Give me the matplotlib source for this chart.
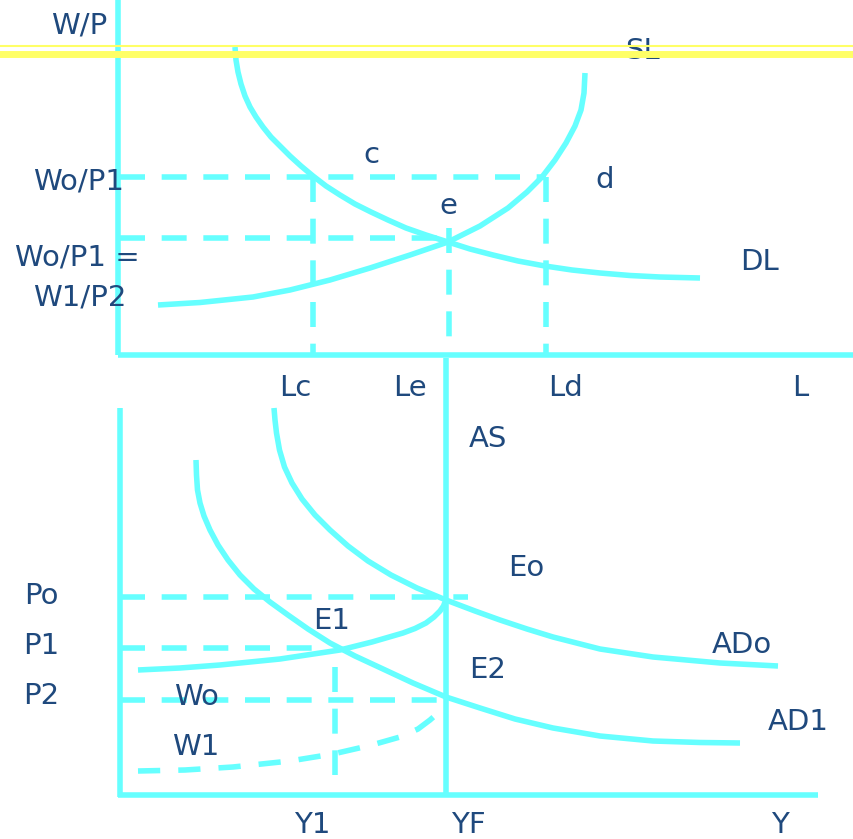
"""
Labour market (top) and AD/AS (bottom) diagram, drawn on one canvas
in picture coordinates (x right, y down).
"""
import matplotlib
matplotlib.use("Agg")
import matplotlib.pyplot as plt

plt.rcParams["lines.scale_dashes"] = False
plt.rcParams["font.family"] = ["DejaVu Sans"]

CYAN = "#66FFFF"
YELLOW = "#FFFF66"
NAVY = "#1F497D"
LW = 4.0
DASH = (18, 12)

# --- data: curves ---------------------------------------------------------
dl_x = [235, 236, 238, 241, 245, 250, 256, 263, 271, 280, 290, 301, 313, 326, 340, 355,
        371, 388, 406, 426, 448, 470, 493, 518, 545, 572, 600, 630, 660, 700]
dl_y = [47, 60, 72, 84, 96, 107, 117, 127, 137, 146, 156, 166, 176, 186, 195, 204,
        212, 220, 228, 235, 242, 249, 255, 261, 266, 270, 273, 275.5, 277, 278]

sl_x = [158, 200, 253, 290, 330, 370, 410, 448, 480, 508, 527, 542, 555, 566, 575, 581, 584, 585]
sl_y = [305, 302.5, 297, 290, 280, 268, 255, 242, 226, 208, 192, 177, 160, 143, 126, 110, 93, 73]

ado_x = [274, 275, 276.5, 279.5, 284.5, 292, 302, 315, 330, 348, 368, 391, 417, 446,
         475, 500, 527, 553, 600, 653, 720, 778]
ado_y = [408, 420, 433, 450, 467, 483, 499, 515, 530, 546, 561, 575, 588, 600,
         611, 620, 629, 637, 649, 657, 663, 666]

ad1_x = [196, 196.5, 197.5, 200, 204, 210, 218, 228, 240, 254, 270, 288, 308, 330, 355,
         383, 413, 446, 480, 515, 553, 600, 653, 700, 740]
ad1_y = [460, 475, 490, 503, 516, 530, 545, 560, 575, 589, 602, 615, 629, 643, 656,
         669, 683, 697, 708, 719, 728, 736, 741, 742.5, 743]

wo_x = [138, 180, 220, 280, 340, 372, 403, 415, 426, 434, 440, 443.5, 445]
wo_y = [670, 668, 665, 659, 650, 642, 633, 628.5, 623, 617, 611, 606, 602]

w1_x = [138, 185, 233, 290, 333, 370, 400, 418, 430, 438, 443]
w1_y = [771, 770, 767, 761, 754, 745.5, 737, 729, 720, 713, 707]

# levels on the axes
wp_levels = [177, 238]          # Wo/P1, Wo/P1 = W1/P2
l_levels = [313, 449, 546]      # Lc, Le, Ld
p_levels = [597, 648, 700]      # Po, P1, P2
y_levels = [335, 446]           # Y1, YF

# dashed guides: (x0, x1, y) and (x, y0, y1)
h_guides = [(120, 546, wp_levels[0]), (120, 450, wp_levels[1]),
            (120, 468, p_levels[0]), (120, 320, p_levels[1]), (120, 440, p_levels[2])]
v_guides = [(l_levels[0], 177, 355), (l_levels[1], 228, 355), (l_levels[2], 177, 355),
            (y_levels[0], 667, 775)]

labels = [
    ("W/P", 79, 25), ("SL", 643, 51), ("c", 371, 155), ("d", 605, 180),
    ("e", 448, 206), ("DL", 760, 262),
    ("Lc", 295, 388), ("Le", 410, 388), ("Ld", 566, 388), ("L", 800, 388),
    ("AS", 488, 439), ("Eo", 526, 568), ("E1", 332, 621), ("E2", 488, 670),
    ("ADo", 742, 645), ("AD1", 798, 722),
    ("Po", 41, 596), ("P1", 41, 646), ("P2", 41, 696),
    ("Wo", 196, 697), ("W1", 196, 747),
    ("Y1", 312, 825), ("YF", 468, 825), ("Y", 780, 825),
]
right_labels = [("Wo/P1", 124, 182), ("Wo/P1 =", 140, 258), ("W1/P2", 126, 297)]

# --- drawing ----------------------------------------------------------------
fig = plt.figure(figsize=(8.54, 8.39), dpi=100)
ax = fig.add_axes([0, 0, 1, 1])
ax.set_xlim(0, 854)
ax.set_ylim(839, 0)
ax.axis("off")

# frames
ax.plot([118, 118], [0, 355], color=CYAN, lw=LW, solid_capstyle="butt")
ax.plot([118, 854], [355, 355], color=CYAN, lw=LW, solid_capstyle="butt")
ax.plot([120, 120], [408, 797], color=CYAN, lw=LW, solid_capstyle="butt")
ax.plot([118, 818], [795, 795], color=CYAN, lw=LW, solid_capstyle="butt")
ax.plot([y_levels[1], y_levels[1]], [358, 797], color=CYAN, lw=LW, solid_capstyle="butt")

for x0, x1, y in h_guides:
    ax.plot([x0, x1], [y, y], color=CYAN, lw=LW, dashes=DASH, dash_capstyle="butt")
for x, y0, y1 in v_guides:
    ax.plot([x, x], [y0, y1], color=CYAN, lw=LW, dashes=DASH, dash_capstyle="butt")

for xs, ys in [(dl_x, dl_y), (sl_x, sl_y), (ado_x, ado_y), (ad1_x, ad1_y), (wo_x, wo_y)]:
    ax.plot(xs, ys, color=CYAN, lw=LW, solid_capstyle="butt", solid_joinstyle="round")
ax.plot(w1_x, w1_y, color=CYAN, lw=LW, dashes=(16, 13), dash_capstyle="butt",
        dash_joinstyle="round")

for txt, x, y in labels:
    ax.text(x, y, txt, color=NAVY, fontsize=21, ha="center", va="center", zorder=3)
for txt, x, y in right_labels:
    ax.text(x, y, txt, color=NAVY, fontsize=21, ha="right", va="center", zorder=3)

# yellow double rule across the top
ax.axhline(46, color=YELLOW, lw=1.5, zorder=4)
ax.axhline(53.5, color=YELLOW, lw=5, zorder=4)

fig.savefig("out.png", dpi=100)
